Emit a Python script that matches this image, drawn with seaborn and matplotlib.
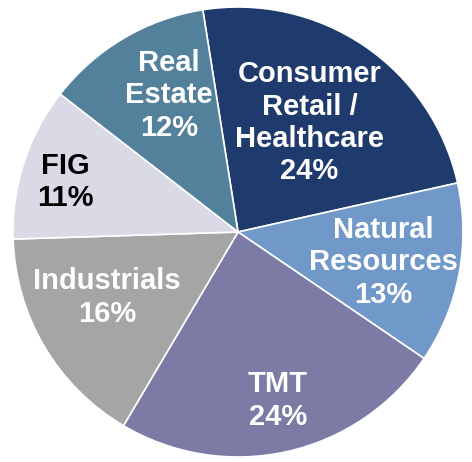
import numpy as np
import matplotlib
matplotlib.use("Agg")
import matplotlib.pyplot as plt
import seaborn as sns

sns.set_theme(style="white")
plt.rcParams['font.family'] = ['Liberation Sans', 'DejaVu Sans']

sectors = ["Consumer\nRetail /\nHealthcare", "Natural\nResources", "TMT",
           "Industrials", "FIG", "Real\nEstate"]
shares = [24, 13, 24, 16, 11, 12]
colors = ["#1F3A6D", "#7098C8", "#7B7BA6", "#A5A5A5", "#DAD9E6", "#53819B"]
text_colors = ["white", "white", "white", "white", "black", "white"]
label_radius = [0.58, 0.66, 0.77, 0.65, 0.80, 0.68]
angle_shift = [1.0, -0.9, 0.8, -4.0, 1.9, -3.8]

fig = plt.figure(figsize=(4.72, 4.62), dpi=100)
ax = fig.add_axes([13/472, 5/462, 450/472, 450/462])
wedges, _ = ax.pie(shares, colors=sns.color_palette(colors), startangle=99,
                   counterclock=False, radius=1.0,
                   wedgeprops=dict(edgecolor="white", linewidth=1.2))
for w, name, val, tc, r, da in zip(wedges, sectors, shares, text_colors,
                                   label_radius, angle_shift):
    mid = np.deg2rad((w.theta1 + w.theta2) / 2 + da)
    ax.text(r*np.cos(mid), r*np.sin(mid), f"{name}\n{val}%", ha="center",
            va="center", color=tc, fontsize=21, fontweight="bold",
            linespacing=1.2)
ax.set_xlim(-1, 1)
ax.set_ylim(-1, 1)
ax.set_aspect("equal")
ax.axis("off")
fig.savefig("out.png", dpi=100)
